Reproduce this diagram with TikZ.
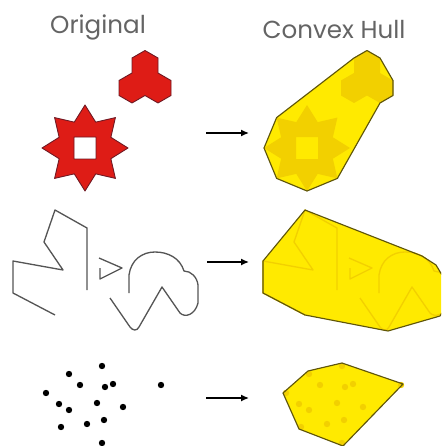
\documentclass[tikz,border=0pt]{standalone}
\usepackage{fontspec}
\setmainfont{Poppins}
\usetikzlibrary{arrows.meta}

\definecolor{shapered}{RGB}{222,28,22}
\definecolor{redline}{RGB}{110,25,35}
\definecolor{hullyellow}{RGB}{255,234,0}
\definecolor{ghostyellow}{RGB}{242,208,0}
\definecolor{hullline}{RGB}{95,85,10}
\definecolor{sketch}{RGB}{85,85,85}
\definecolor{titlegray}{RGB}{100,100,100}

% --- shapes of the "Original" column (pixel units, y down) ---
\newcommand{\starpath}{(0:43) \foreach \a in {0,45,...,315} {-- (\a+22.5:28) -- (\a+45:43)} -- cycle (-11,-11) rectangle (11,11)}
\newcommand{\trefoilpath}{(145,50.5) -- (158,58) -- (158,73) -- (171,80.5) -- (171,95.5) -- (158,103)
                          -- (145,95.5) -- (132,103) -- (119,95.5) -- (119,80.5) -- (132,73) -- (132,58) -- cycle}
\newcommand{\zigzagpath}{(87,290) -- (87,228) -- (55,210) -- (44,242) -- (63,270) -- (13,261) -- (13,293) -- (55,315)}
\newcommand{\wedgepath}{(99,258) -- (122,268) -- (100,279) -- (100,268)}
\newcommand{\cloudpath}{(110,298) -- (130,327) .. controls (133,331) and (137,331) .. (139,327) -- (162,287)
                        -- (180,313) .. controls (185,318) and (195,315) .. (198,303) -- (198,285)
                        .. controls (197,277) and (191,271) .. (184,271)
                        .. controls (180,258) and (168,252) .. (155,252)
                        .. controls (142,252) and (131,260) .. (129,275) -- (129,293)}
\newcommand{\dotlist}{102/366, 69/374, 80/385, 105/387, 113/384, 46/393, 161/385, 59/404,
                      97/403, 69/410, 123/407, 104/420, 87/424, 61/427, 102/443}

\tikzset{
  redshape/.style={fill=shapered, draw=redline, line width=0.5pt, line join=round, even odd rule},
  sketchline/.style={draw=sketch, line width=0.75pt, line join=round},
  hull/.style={fill=hullyellow},
  hulledge/.style={draw=hullline, line width=0.65pt, line join=round},
  ghostfill/.style={fill=ghostyellow, even odd rule},
  ghostline/.style={draw=ghostyellow, line width=0.75pt, line join=round},
  headtext/.style={font=\fontsize{14}{16}\selectfont, text=titlegray},
  hullarrow/.style={-{Latex[length=4.5pt,width=4pt]}, line width=0.8pt},
}

\begin{document}
\begin{tikzpicture}[x=0.02cm, y=-0.02cm]

\useasboundingbox (0,0) rectangle (441,446);
\clip (0,0) rectangle (441,446);

% --- titles ---
\node[headtext] (origtitle) at (98,27) {Original};
\node[headtext] (hulltitle) at (334,30) {Convex Hull};

% --- row 1: star and trefoil ---
\path[redshape] \trefoilpath;
\path[redshape, shift={(85,148)}] \starpath;

\begin{scope}[shift={(222,0)}]
  \fill[hull] (145,50.5) -- (158,58) -- (171,80.5) -- (171,95.5) -- (158,103) -- (115.4,178.4)
              -- (85,191) -- (54.6,178.4) -- (42,148) -- (54.6,117.6) -- (132,58) -- cycle;
  \fill[ghostfill] \trefoilpath;
  \fill[ghostfill, shift={(85,148)}] \starpath;
  \draw[hulledge] (145,50.5) -- (158,58) -- (171,80.5) -- (171,95.5) -- (158,103) -- (115.4,178.4)
              -- (85,191) -- (54.6,178.4) -- (42,148) -- (54.6,117.6) -- (132,58) -- cycle;
\end{scope}

% --- row 2: line drawings ---
\draw[sketchline] \zigzagpath;
\draw[sketchline] \wedgepath;
\draw[sketchline] \cloudpath;

\begin{scope}[shift={(250,0)}]
  \fill[hull] (55,210) -- (172,256) -- (186,265) -- (198,285) -- (198,303) -- (190,316)
              -- (138,331) -- (55,315) -- (13,293) -- (13,261) -- cycle;
  \draw[ghostline] \zigzagpath;
  \draw[ghostline] \wedgepath;
  \draw[ghostline] \cloudpath;
  \draw[hulledge] (55,210) -- (172,256) -- (186,265) -- (198,285) -- (198,303) -- (190,316)
              -- (138,331) -- (55,315) -- (13,293) -- (13,261) -- cycle;
\end{scope}

% --- row 3: point set ---
\foreach \x/\y in \dotlist {
  \fill (\x,\y) circle [radius=3.2];
}

\begin{scope}[shift={(240,0)}]
  \fill[hull] (102,363) -- (163,384) -- (103,446) -- (59,429) -- (43,393) -- (68,371) -- cycle;
  \foreach \x/\y in \dotlist {
    \fill[ghostyellow] (\x,\y) circle [radius=3.2];
  }
  \draw[hulledge] (102,363) -- (163,384) -- (103,446) -- (59,429) -- (43,393) -- (68,371) -- cycle;
\end{scope}

% --- arrows ---
\coordinate (a1s) at (206,133); \coordinate (a1e) at (249,133);
\coordinate (a2s) at (207,262); \coordinate (a2e) at (249,262);
\coordinate (a3s) at (206,398); \coordinate (a3e) at (249,398);
\draw[hullarrow] (a1s) -- (a1e);
\draw[hullarrow] (a2s) -- (a2e);
\draw[hullarrow] (a3s) -- (a3e);

\end{tikzpicture}
\end{document}
